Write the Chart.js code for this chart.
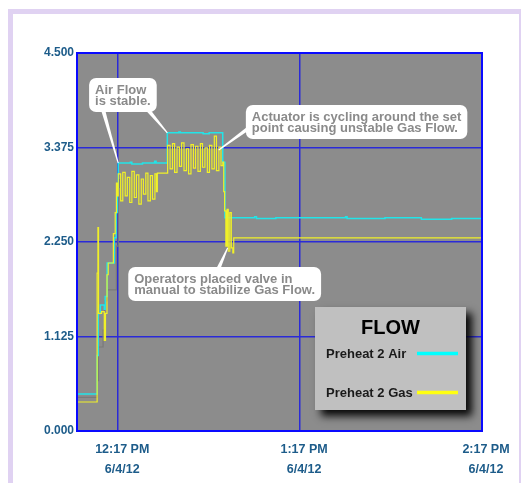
<!DOCTYPE html>
<html>
<head>
<meta charset="utf-8">
<script src="https://cdn.jsdelivr.net/npm/chart.js@4.4.1/dist/chart.umd.min.js"></script>
<style>
  body { margin: 0; background: #fff; }
  #wrap { position: relative; width: 521px; height: 483px; overflow: hidden; }
  #frame { position: absolute; left: 8px; top: 9px; width: 513px; height: 474px; background: #e0d2f2; }
  #inner { position: absolute; left: 13px; top: 14px; width: 506px; height: 469px; background: #fff; }
  #flowChart { position: absolute; left: 0; top: 0; }
</style>
</head>
<body>
<div id="wrap">
  <div id="frame"></div>
  <div id="inner"></div>
  <canvas id="flowChart" width="521" height="483"></canvas>
</div>
<script>
// --- DATA --- (time in minutes after 12:17 PM, flow value)
const seriesNames = ["Preheat 2 Air", "Preheat 2 Gas"];

const airFlow = [
  [-13.6, 0.44], [-6.96, 0.90], [-6.6, 1.40], [-5.9, 1.50], [-4.6, 1.45], [-4.3, 1.60],
  [-3.65, 2.00], [-2.0, 2.00], [-1.3, 2.30], [-0.7, 2.60], [-0.3, 2.90], [0.0, 3.19],
  [4.0, 3.20], [4.5, 3.18], [8.0, 3.19], [12.0, 3.21], [12.5, 3.19], [16.2, 3.55],
  [20.0, 3.56], [20.5, 3.55], [28.0, 3.54], [30.0, 3.55], [34.47, 3.20], [35.2, 2.54],
  [45.0, 2.55], [45.6, 2.53], [52.0, 2.54], [60.0, 2.54], [75.0, 2.55], [75.5, 2.53],
  [88.0, 2.54], [100.0, 2.52], [110.0, 2.53], [120.0, 2.53]
];

const gasFlow = [
  [-13.6, 0.345], [-6.96, 1.88], [-6.7, 2.42], [-6.5, 1.40], [-5.5, 1.42], [-4.6, 1.08],
  [-4.2, 1.40], [-3.7, 1.86], [-3.3, 2.00], [-2.0, 2.00], [-1.6, 2.35], [-1.0, 2.60],
  [-0.6, 2.95], [-0.2, 2.80],
  [0.0, 3.06], [0.8, 2.74], [1.5, 3.08], [2.3, 2.80], [3.0, 3.02], [3.8, 2.72],
  [4.5, 3.09], [5.3, 2.78], [6.0, 3.05], [6.8, 2.70], [7.6, 3.00], [8.3, 2.82],
  [9.1, 3.07], [9.8, 2.74], [10.6, 3.04], [11.3, 2.76], [12.1, 3.06], [12.6, 2.85],
  [12.9, 3.07],
  [16.3, 3.40], [17.1, 3.12], [17.9, 3.42], [18.6, 3.08], [19.4, 3.38], [20.2, 3.15],
  [20.9, 3.43], [21.7, 3.10], [22.5, 3.36], [23.2, 3.06], [24.0, 3.41], [24.8, 3.13],
  [25.5, 3.39], [26.3, 3.09], [27.1, 3.42], [27.8, 3.14], [28.6, 3.37], [29.4, 3.08],
  [30.1, 3.40], [30.9, 3.12], [31.7, 3.51], [32.4, 3.10], [33.2, 3.38], [33.9, 3.16],
  [34.5, 3.20], [34.8, 2.85], [35.1, 2.62], [35.5, 2.20], [35.9, 2.64], [36.3, 2.14],
  [36.8, 2.60], [37.3, 2.18], [37.8, 2.12], [38.1, 2.30], [120.0, 2.30]
];

// faint trace visible under the other two during start-up
const ghostFlow = [
  [-13.6, 0.40], [-6.9, 0.60], [-6.5, 1.00], [-5.0, 1.20], [-4.5, 1.55], [-3.6, 1.68],
  [-1.0, 1.68], [-0.6, 2.20], [0.0, 2.90], [0.4, 3.00]
];

const xTicks = [0, 60, 120];
const xTickLabels = [["12:17 PM", "6/4/12"], ["1:17 PM", "6/4/12"], ["2:17 PM", "6/4/12"]];
const yMax = 4.5;
const yStep = 1.125;

// callouts: box top-left in data units, text lines, pointer (box offset px -> data point)
const callouts = [
  { at: [-9.61, 4.203], lines: ["Air Flow", "is stable."],
    pointers: [{ from: [14, "bottom"], to: [0, 3.19] }, { from: [59, "bottom"], to: [16.2, 3.55] }] },
  { at: [42.1, 3.881], lines: ["Actuator is cycling around the set", "point causing unstable Gas Flow."],
    pointers: [{ from: [3, 23], to: [33.15, 3.345] }] },
  { at: [3.31, 1.952], lines: ["Operators placed valve in", "manual to stabilize Gas Flow."],
    pointers: [{ from: [90, "top"], to: [36.1, 2.18] }] }
];

const toPoints = arr => arr.map(p => ({ x: p[0], y: p[1] }));
const FONT = '"Liberation Sans", Arial, sans-serif';

// --- PLUGINS ---
const plotBg = {
  id: 'plotBg',
  beforeDraw(chart) {
    const a = chart.chartArea, ctx = chart.ctx;
    ctx.save();
    ctx.fillStyle = '#8c8c8c';
    ctx.fillRect(a.left, a.top, a.right - a.left, a.bottom - a.top);
    ctx.restore();
  }
};

const calloutPlugin = {
  id: 'callouts',
  afterDatasetsDraw(chart) {
    const ctx = chart.ctx, xs = chart.scales.x, ys = chart.scales.y;
    const a = chart.chartArea;
    ctx.save();
    ctx.strokeStyle = '#0a0aff';
    ctx.lineWidth = 2;
    ctx.strokeRect(a.left, a.top, a.right - a.left, a.bottom - a.top);

    ctx.font = 'bold 13px ' + FONT;
    callouts.forEach(c => {
      const bx = xs.getPixelForValue(c.at[0]);
      const by = ys.getPixelForValue(c.at[1]);
      const w = Math.max(...c.lines.map(l => ctx.measureText(l).width)) + 12;
      const h = 16 + 11 * (c.lines.length - 1) + 7;
      // pointers
      ctx.fillStyle = '#ffffff';
      c.pointers.forEach(p => {
        const fx = bx + p.from[0];
        const fy = p.from[1] === 'bottom' ? by + h - 2 : p.from[1] === 'top' ? by + 2 : by + p.from[1];
        const tx = xs.getPixelForValue(p.to[0]), ty = ys.getPixelForValue(p.to[1]);
        const ang = Math.atan2(ty - fy, tx - fx);
        const nx = -Math.sin(ang) * 2, ny = Math.cos(ang) * 2;
        ctx.beginPath();
        ctx.moveTo(fx + nx, fy + ny);
        ctx.lineTo(tx + nx * 0.3, ty + ny * 0.3);
        ctx.lineTo(tx - nx * 0.3, ty - ny * 0.3);
        ctx.lineTo(fx - nx, fy - ny);
        ctx.closePath();
        ctx.fill();
      });
      ctx.beginPath();
      ctx.roundRect(bx, by, w, h, 7);
      ctx.fill();
      ctx.fillStyle = '#8a8a8a';
      ctx.textAlign = 'left';
      ctx.textBaseline = 'alphabetic';
      c.lines.forEach((l, i) => ctx.fillText(l, bx + 6, by + 16 + i * 11));
      ctx.fillStyle = '#ffffff';
    });
    ctx.restore();
  }
};

const legendBox = {
  id: 'legendBox',
  afterDraw(chart) {
    const ctx = chart.ctx, a = chart.chartArea;
    const left = a.right - 167, top = a.bottom - 124, w = 151, h = 103;
    ctx.save();
    ctx.shadowColor = 'rgba(0,0,0,0.95)';
    ctx.shadowBlur = 8;
    ctx.shadowOffsetX = 6;
    ctx.shadowOffsetY = 6;
    ctx.fillStyle = '#c0c0c0';
    ctx.fillRect(left, top, w, h);
    ctx.restore();

    ctx.save();
    ctx.fillStyle = '#000';
    ctx.textAlign = 'center';
    ctx.font = 'bold 20px ' + FONT;
    ctx.fillText('FLOW', left + w / 2, top + 27);
    ctx.textAlign = 'left';
    ctx.font = 'bold 13px ' + FONT;
    const rows = [51, 90];
    chart.data.datasets.slice(0, 2).forEach((ds, i) => {
      ctx.fillStyle = '#1a1a1a';
      ctx.fillText(ds.label, left + 11, top + rows[i]);
      ctx.strokeStyle = ds.legendColor;
      ctx.lineWidth = 3.5;
      ctx.beginPath();
      ctx.moveTo(left + 102, top + rows[i] - 4.5);
      ctx.lineTo(left + 143, top + rows[i] - 4.5);
      ctx.stroke();
    });
    ctx.restore();
  }
};

// --- CHART ---
new Chart(document.getElementById('flowChart'), {
  type: 'line',
  data: {
    datasets: [
      { label: seriesNames[0], data: toPoints(airFlow), borderColor: '#22e4e8', legendColor: '#00ffff',
        borderWidth: 1.5, stepped: true, pointRadius: 0, order: 1 },
      { label: seriesNames[1], data: toPoints(gasFlow), borderColor: '#f0f028', legendColor: '#ffff10',
        borderWidth: 1.2, stepped: true, pointRadius: 0, order: 0 },
      { label: 'ghost', data: toPoints(ghostFlow), borderColor: '#7a7a7a',
        borderWidth: 1.2, stepped: true, pointRadius: 0, order: 2 }
    ]
  },
  options: {
    responsive: false,
    animation: false,
    devicePixelRatio: 1,
    layout: { padding: { left: 0, top: 53, right: 39, bottom: 0 } },
    plugins: { legend: { display: false }, tooltip: { enabled: false } },
    scales: {
      x: {
        type: 'linear', min: -13.6, max: 120,
        afterBuildTicks: s => { s.ticks = xTicks.map(v => ({ value: v })); },
        afterFit: s => { s.height = 52; },
        grid: { color: '#2a2ad8', lineWidth: 1.5, drawTicks: false },
        border: { display: false },
        ticks: {
          callback: v => xTickLabels[xTicks.indexOf(v)],
          color: '#1d5c8a', font: { family: FONT, size: 12.5, weight: 'bold', lineHeight: 1.55 },
          padding: 9, labelOffset: 4, maxRotation: 0, autoSkip: false
        }
      },
      y: {
        min: 0, max: yMax,
        afterFit: s => { s.width = 77; },
        grid: { color: '#2a2ad8', lineWidth: 1.5, drawTicks: false },
        border: { display: false },
        ticks: {
          stepSize: yStep, callback: v => v.toFixed(3),
          color: '#1d5c8a', font: { family: FONT, size: 12, weight: 'bold' }, padding: 3
        }
      }
    }
  },
  plugins: [plotBg, calloutPlugin, legendBox]
});
</script>
</body>
</html>
